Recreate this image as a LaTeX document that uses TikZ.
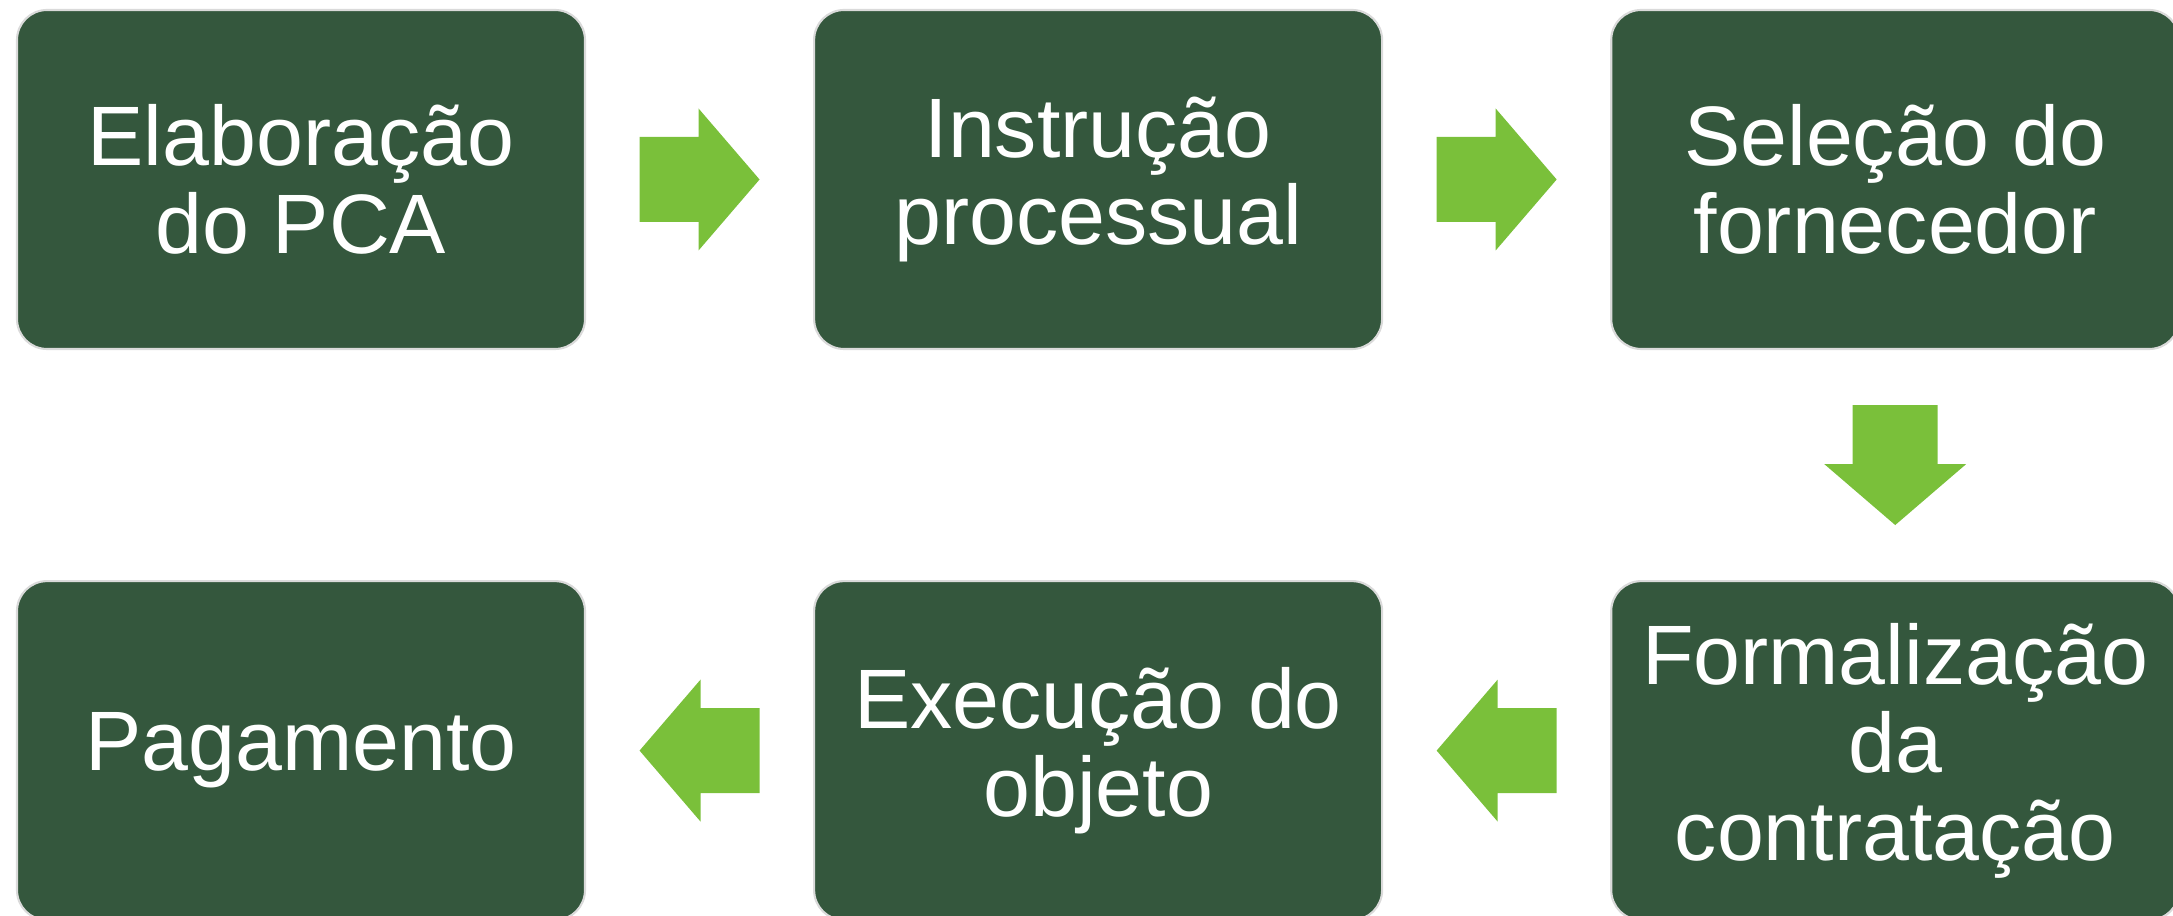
\documentclass[tikz,border=0pt]{standalone}
\usepackage{fontspec}
\setmainfont{Liberation Sans}
\usetikzlibrary{calc,positioning}
\definecolor{verdeescuro}{HTML}{34573D}
\definecolor{verdeclaro}{HTML}{7AC03A}
\definecolor{bordacinza}{HTML}{DADADA}
\tikzset{%
    etapa/.style={%
        rectangle, rounded corners=0.3cm, minimum width=5.68cm, minimum height=3.39cm, draw=bordacinza, line width=0.6pt, fill=verdeescuro, text=white, align=center, font=\fontsize{24}{25}\selectfont
    },
    seta/.style={%
        fill=verdeclaro
    },
    pics/flecha/.style={%
        code={\fill[seta] (-0.6,0.425) -- (-0.01,0.425) -- (-0.01,0.71) -- (0.6,0) -- (-0.01,-0.71) -- (-0.01,-0.425) -- (-0.6,-0.425) -- cycle;}
    },
}

\begin{document}
\begin{tikzpicture}
      \clip (0,0) rectangle (21.73,-9.16);
      \node[etapa] (elab) at (3.01,-1.795) {Elaboração\\do PCA};
      \node[etapa, right=2.27cm of elab] (instr) {Instrução\\processual};
      \node[etapa, right=2.27cm of instr] (sel) {Seleção do\\fornecedor};
      \node[etapa, below=2.3cm of sel] (form) {Formalização\\da\\contratação};
      \node[etapa, left=2.27cm of form] (exec) {Execução do\\objeto};
      \node[etapa, left=2.27cm of exec] (pag) {Pagamento};

      \pic at ($(elab)!0.5!(instr)$) {flecha};
      \pic at ($(instr)!0.5!(sel)$) {flecha};
      \pic[rotate=-90] at ($(sel)!0.5!(form)$) {flecha};
      \pic[rotate=180] at ($(form)!0.5!(exec)$) {flecha};
      \pic[rotate=180] at ($(exec)!0.5!(pag)$) {flecha};
\end{tikzpicture}
\end{document}
